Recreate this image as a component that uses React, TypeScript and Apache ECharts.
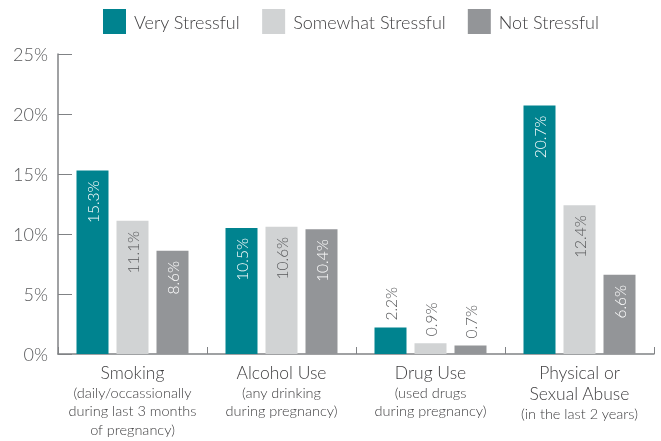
import React, { useEffect, useRef } from "react";
import * as echarts from "echarts";

const categories = ["Smoking", "Alcohol Use", "Drug Use", "Physical or Sexual Abuse"];
const categoryTitles = [["Smoking"], ["Alcohol Use"], ["Drug Use"], ["Physical or", "Sexual Abuse"]];
const categorySubtitles = [
  ["(daily/occassionally", "during last 3 months", "of pregnancy)"],
  ["(any drinking", "during pregnancy)"],
  ["(used drugs", "during pregnancy)"],
  ["(in the last 2 years)"],
];
const seriesNames = ["Very Stressful", "Somewhat Stressful", "Not Stressful"];
const veryStressful = [15.3, 10.5, 2.2, 20.7];
const somewhatStressful = [11.1, 10.6, 0.9, 12.4];
const notStressful = [8.6, 10.4, 0.7, 6.6];
const yTicks = [0, 5, 10, 15, 20, 25];

const colors = ["#00838f", "#d1d3d4", "#939598"];
const insideLabelColors = ["#ffffff", "#58595b", "#ffffff"];
const FONT = "Lato";
const WEIGHT = 300;

export default function App() {
  const ref = useRef<HTMLDivElement>(null);
  useEffect(() => {
    if (!ref.current) return;
    const chart = echarts.init(ref.current, null, { renderer: "svg" });
    const values = [veryStressful, somewhatStressful, notStressful];
    const series = values.map((vals, si) => ({
      name: seriesNames[si],
      type: "bar",
      barWidth: 32,
      barGap: "25%",
      itemStyle: { color: colors[si] },
      data: vals.map((v) => {
        const small = v < 5;
        return {
          value: v,
          label: small
            ? {
                show: true,
                position: "top",
                rotate: 90,
                align: "left",
                verticalAlign: "middle",
                distance: 7,
                color: "#58595b",
              }
            : {
                show: true,
                position: "insideTop",
                rotate: 90,
                align: "right",
                verticalAlign: "middle",
                distance: 10,
                color: insideLabelColors[si],
              },
        };
      }),
      label: {
        show: true,
        fontFamily: FONT,
        fontWeight: WEIGHT,
        fontSize: 15.5,
        formatter: (p: any) => p.value.toFixed(1) + "%",
      },
    }));

    chart.setOption({
      animation: false,
      textStyle: { fontFamily: FONT },
      legend: {
        top: 9,
        left: 103,
        padding: 0,
        itemWidth: 23,
        itemHeight: 25,
        itemGap: 22,
        icon: "rect",
        textStyle: { fontFamily: FONT, fontWeight: WEIGHT, fontSize: 18, color: "#414042", padding: [0, 0, 0, 3] },
        data: seriesNames,
      },
      grid: { left: 58, right: 7, top: 54, bottom: 87, containLabel: false },
      xAxis: {
        type: "category",
        data: categories,
        axisLine: { show: true, lineStyle: { color: "#808285", width: 1.5 } },
        axisTick: { show: true, inside: true, length: 7, lineStyle: { color: "#808285" } },
        axisLabel: {
          interval: 0,
          margin: 8,
          formatter: (val: string, idx: number) => {
            const t = categoryTitles[idx].map((s) => "{a|" + s + "}");
            const s = categorySubtitles[idx].map((x) => "{b|" + x + "}");
            return t.concat(s).join("\n");
          },
          rich: {
            a: { fontFamily: FONT, fontWeight: WEIGHT, fontSize: 17.5, color: "#414042", lineHeight: 21 },
            b: { fontFamily: FONT, fontWeight: WEIGHT, fontSize: 14.5, color: "#414042", lineHeight: 18.5 },
          },
        },
      },
      yAxis: {
        type: "value",
        min: yTicks[0],
        max: yTicks[yTicks.length - 1],
        interval: 5,
        axisLine: { show: true, lineStyle: { color: "#808285", width: 1.5 } },
        axisTick: { show: true, inside: true, length: 14, lineStyle: { color: "#808285" } },
        splitLine: { show: false },
        axisLabel: {
          fontFamily: FONT,
          fontWeight: WEIGHT,
          fontSize: 18,
          color: "#58595b",
          margin: 10,
          formatter: (v: number) => v + "%",
        },
      },
      series,
    });
    return () => chart.dispose();
  }, []);
  return <div ref={ref} style={{ position: "fixed", left: 0, top: 0, width: 661, height: 441 }} />;
}
